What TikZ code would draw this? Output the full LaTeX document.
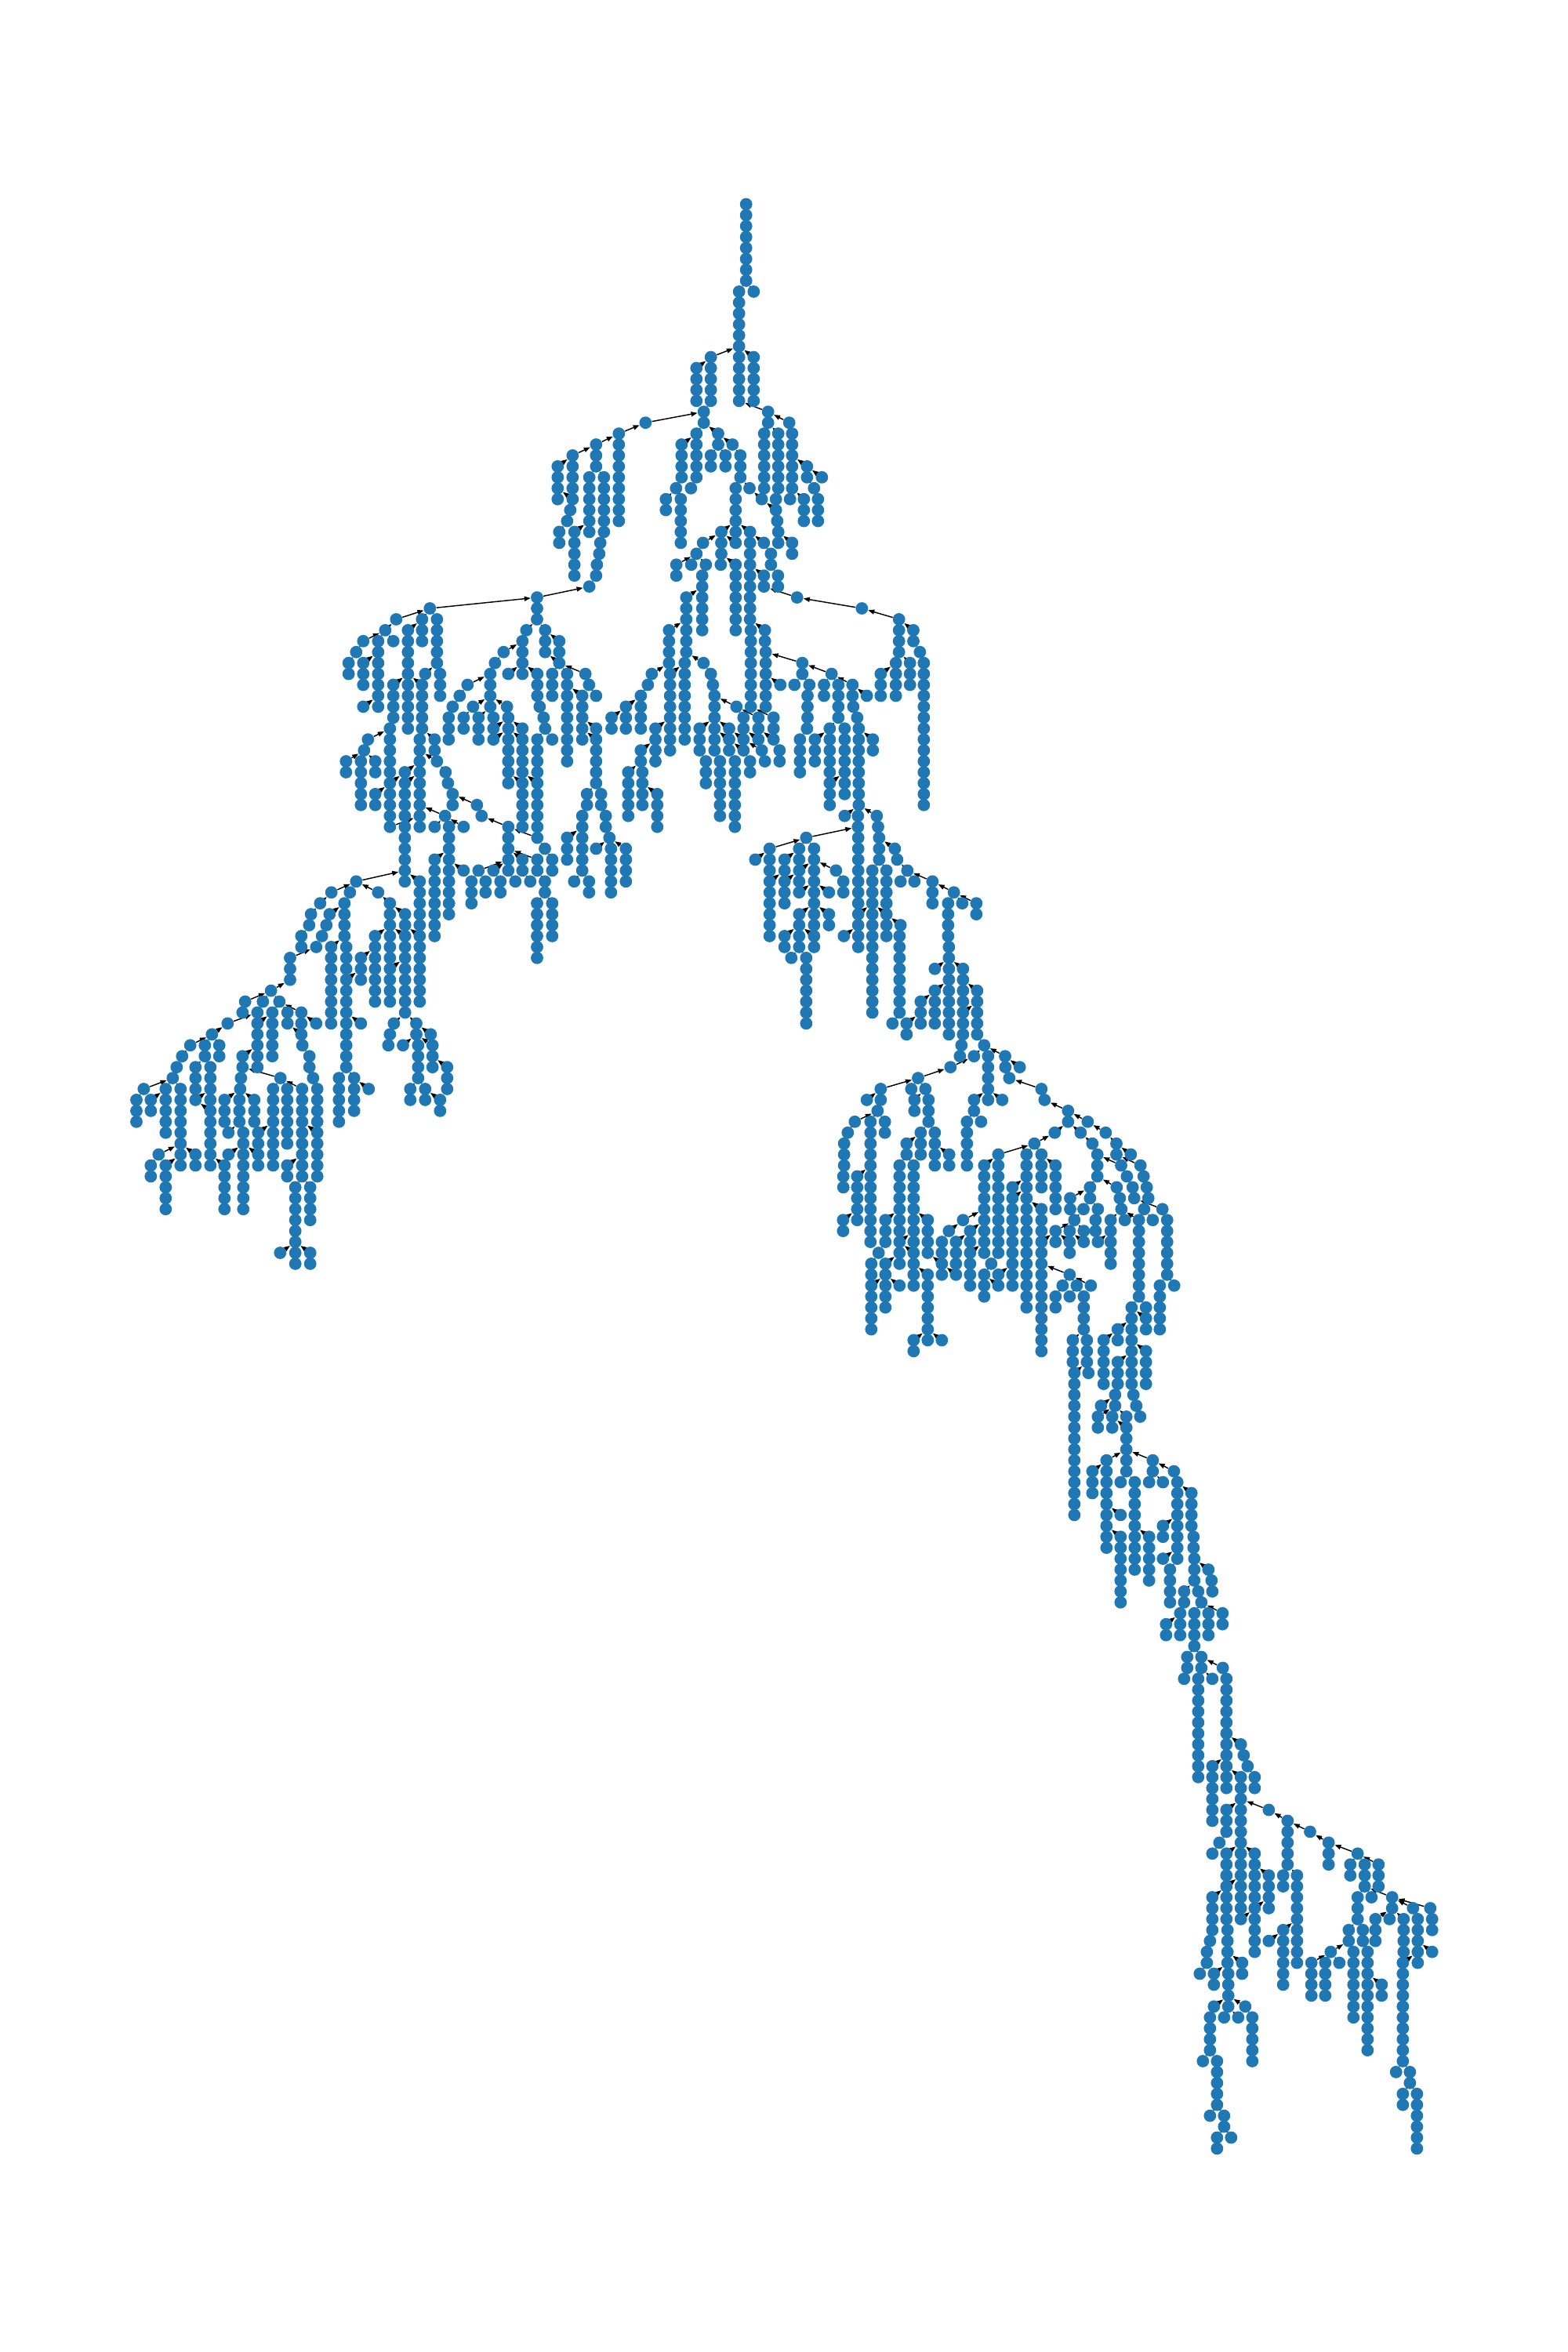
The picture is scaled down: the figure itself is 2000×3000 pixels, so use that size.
\documentclass[tikz,border=0pt]{standalone}
\usetikzlibrary{arrows.meta}
\definecolor{dotblue}{HTML}{1F78B4}
\pgfdeclarelayer{bg}\pgfsetlayers{bg,main}
\tikzset{
  dot/.style={circle,fill=dotblue,draw=none,inner sep=0pt,minimum size=7.9pt},
  edge/.style={-{Triangle[length=4pt,width=3pt]},line width=0.72pt,black}
}
\def\edgelist{}
\newcommand\C[2]{\gdef\cn{#1}\gdef\cx{#2}}
\newcommand\ed[2]{\ifcsname pgf@sh@ns@#2\endcsname\draw[edge] (#1) -- (#2);\else\fill[red] (#1) circle (25);\typeout{MISSING #2}\fi}
\newcommand\chainrun[4]{\ifnum#4>1 \foreach \k in {2,...,#4}{%
  \pgfmathtruncatemacro\lv{#3+\k-1}\pgfmathtruncatemacro\lp{\lv-1}%
  \draw[edge] (#1-#2-\lv) -- (#1-#2-\lp);}\fi}
\newcommand\Rn[3]{\foreach \k in {1,...,#3}{%
  \pgfmathtruncatemacro\lv{#2+\k-1}%
  \node[dot] (\cn-#1-\lv) at ({\cx+#1/3},{260.5+13.932*\lv}) {};
}\xdef\edgelist{\unexpanded\expandafter{\edgelist}\noexpand\chainrun{\cn}{#1}{#2}{#3}}}
\newcommand\Rv[4]{\Rn{#1}{#2}{#3}%
  \xdef\edgelist{\unexpanded\expandafter{\edgelist}\noexpand\ed{\cn-#1-#2}{#4}}}
\newcommand\Ru[4]{\Rn{#1}{#2}{#3}%
  \ifx\relax#4\relax\else
  \xdef\edgelist{\unexpanded\expandafter{\edgelist}\noexpand\ed{\cn-#1-#2}{\cn-#4-\the\numexpr#2-1\relax}}\fi}
\begin{document}
\begin{tikzpicture}[x=0.5pt,y=-0.5pt]
\useasboundingbox (0,0) rectangle (2000,3000);
\C{a}{650}
\Ru{905}{0}{8}{}\Ru{878}{8}{11}{905}\Ru{934}{8}{1}{905}\Ru{770}{14}{5}{878}\Ru{934}{14}{5}{878}
\Ru{715}{15}{4}{770}\Ru{989}{19}{2}{878}\Ru{1070}{20}{1}{989}\Ru{974}{21}{6}{989}\Ru{1028}{21}{6}{989}
\Ru{1081}{21}{6}{1070}\Ru{1019}{27}{1}{1028}\Ru{1073}{27}{1}{1081}\Ru{1138}{24}{2}{1081}\Ru{1195}{25}{1}{1138}
\Ru{1165}{26}{1}{1138}\Ru{1180}{27}{3}{1165}\Ru{1126}{27}{3}{1081}\Ru{743}{19}{2}{770}\Ru{520}{20}{1}{743}
\Ru{418}{21}{9}{520}\Ru{331}{22}{3}{418}\Ru{241}{23}{4}{331}\Ru{184}{24}{4}{241}\Ru{241}{27}{1}{184}
\Ru{232}{28}{1}{241}\Ru{220}{29}{1}{232}\Ru{190}{30}{2}{220}\Ru{305}{25}{6}{331}\Ru{361}{25}{6}{331}
\Ru{248}{30}{5}{305}\Ru{347}{31}{1}{361}\Ru{343}{32}{1}{347}\Ru{334}{33}{1}{343}\Ru{331}{34}{1}{334}
\Ru{305}{35}{1}{331}\Ru{715}{21}{5}{743}\Ru{798}{21}{2}{743}\Ru{658}{22}{4}{715}\Ru{637}{26}{1}{658}
\Ru{694}{26}{1}{715}\Ru{598}{27}{2}{637}\Ru{655}{27}{5}{637}\Ru{853}{22}{1}{798}\Ru{770}{23}{2}{798}
\Ru{826}{23}{2}{798}\Ru{883}{23}{3}{853}\Ru{865}{26}{4}{883}\Ru{918}{26}{1}{883}\Ru{965}{27}{1}{918}
\Ru{1019}{28}{1}{965}\Ru{1024}{29}{1}{1019}\Ru{1028}{30}{2}{1024}\Ru{1081}{31}{2}{1028}\Ru{810}{30}{3}{865}
\Ru{865}{30}{1}{865}\Ru{920}{30}{3}{865}\Ru{865}{31}{1}{810}\Ru{740}{31}{1}{810}\Ru{973}{31}{1}{920}
\Ru{1000}{32}{1}{973}\Ru{715}{32}{1}{740}
\C{c}{780}
\Rv{248}{33}{2}{a-715-32}\Rv{305}{33}{1}{a-715-32}\Rv{361}{33}{1}{a-715-32}\Rv{418}{33}{1}{a-810-32}
\Rv{475}{33}{7}{a-810-32}\Rv{530}{33}{6}{a-920-32}\Rv{610}{33}{1}{a-1000-32}
\Ru{347}{34}{6}{361}\Ru{583}{34}{2}{530}\Ru{637}{34}{2}{610}\Ru{710}{36}{1}{583}\Ru{958}{37}{1}{710}
\Ru{1100}{38}{4}{958}\Ru{286}{36}{6}{347}\Ru{280}{42}{8}{286}\Ru{220}{39}{4}{286}\Ru{154}{43}{1}{220}
\Ru{139}{44}{1}{154}\Ru{112}{45}{4}{139}\Ru{55}{46}{3}{112}\Ru{224}{43}{8}{280}\Ru{168}{48}{4}{224}
\Ru{112}{50}{2}{168}\Ru{118}{52}{4}{112}\Ru{64}{52}{5}{112}\Ru{175}{54}{4}{118}\Ru{352}{42}{1}{286}
\Ru{380}{43}{1}{352}\Ru{388}{44}{1}{380}\Ru{394}{45}{6}{388}\Ru{478}{46}{1}{394}\Ru{505}{47}{2}{478}
\Ru{562}{47}{2}{478}\Ru{620}{47}{2}{533}\Ru{337}{48}{3}{394}\Ru{450}{48}{1}{394}\Ru{450}{49}{2}{394}
\Ru{505}{49}{1}{450}\Ru{505}{50}{1}{450}\Ru{562}{49}{1}{505}\Ru{620}{49}{1}{562}\Ru{575}{50}{1}{505}
\Ru{643}{50}{2}{620}\Ru{587}{51}{1}{575}\Ru{530}{51}{2}{505}\Ru{472}{51}{7}{450}\Ru{415}{51}{6}{394}
\Ru{361}{51}{3}{337}\Ru{533}{39}{8}{530}\Ru{587}{39}{2}{530}\Ru{590}{41}{6}{587}\Ru{646}{44}{1}{590}
\Ru{730}{42}{2}{590}\Ru{842}{43}{1}{730}\Ru{700}{44}{1}{730}\Ru{757}{44}{1}{730}\Ru{750}{45}{3}{757}
\Ru{748}{48}{1}{750}\Ru{721}{49}{4}{748}\Ru{813}{44}{2}{842}\Ru{868}{44}{4}{842}\Ru{922}{44}{2}{842}
\Ru{977}{45}{1}{922}\Ru{925}{46}{1}{922}\Ru{940}{47}{1}{925}\Ru{946}{48}{8}{940}\Ru{835}{48}{5}{868}
\Ru{892}{48}{7}{868}\Ru{835}{53}{3}{892}\Ru{778}{49}{3}{835}\Ru{1000}{49}{2}{946}\Ru{943}{56}{2}{946}
\Ru{892}{56}{1}{946}\Ru{1015}{56}{1}{946}\Ru{1020}{57}{1}{1015}\Ru{1155}{39}{2}{1100}\Ru{1180}{41}{1}{1155}
\Ru{1195}{42}{14}{1180}\Ru{1088}{42}{4}{1100}\Ru{1142}{42}{3}{1100}\Ru{1030}{43}{3}{1088}
\C{b}{400}
\Rv{855}{36}{3}{a-305-35}
\Ru{445}{37}{1}{855}\Ru{316}{38}{1}{445}\Ru{415}{38}{3}{445}\Ru{472}{38}{5}{445}\Ru{274}{39}{1}{316}
\Ru{190}{40}{1}{274}\Ru{247}{40}{7}{274}\Ru{305}{40}{1}{274}\Ru{163}{41}{1}{190}\Ru{134}{42}{2}{163}
\Ru{190}{42}{3}{247}\Ru{190}{46}{1}{247}\Ru{361}{39}{10}{415}\Ru{484}{43}{3}{472}\Ru{427}{43}{1}{472}
\Ru{415}{44}{5}{361}\Ru{305}{44}{4}{361}\Ru{406}{49}{9}{415}\Ru{463}{49}{2}{415}\Ru{472}{51}{1}{406}
\Ru{505}{52}{1}{472}\Ru{514}{53}{1}{505}\Ru{532}{54}{2}{514}\Ru{292}{48}{5}{305}\Ru{208}{49}{1}{292}
\Ru{193}{50}{1}{208}\Ru{124}{51}{2}{193}\Ru{181}{51}{5}{193}\Ru{236}{51}{2}{193}\Ru{236}{54}{2}{292}
\Ru{349}{52}{1}{406}\Ru{349}{53}{10}{406}\Ru{292}{53}{4}{349}\Ru{292}{57}{1}{406}\Ru{625}{55}{1}{532}
\Ru{643}{56}{1}{625}\Ru{745}{57}{5}{643}\Ru{503}{56}{1}{406}\Ru{463}{57}{1}{503}\Ru{518}{57}{9}{503}
\Ru{574}{57}{1}{503}\Ru{463}{60}{8}{518}\Ru{574}{61}{1}{518}\Ru{631}{61}{1}{745}\Ru{688}{61}{1}{745}
\Ru{604}{62}{3}{631}\Ru{658}{62}{2}{631}\Ru{715}{62}{2}{688}\Ru{772}{62}{1}{745}\Ru{799}{60}{2}{745}
\Ru{829}{62}{1}{799}\Ru{856}{58}{1}{745}\Ru{885}{59}{1}{856}\Ru{856}{60}{2}{745}\Ru{885}{62}{2}{856}
\Ru{913}{60}{2}{885}\Ru{855}{64}{6}{885}\Ru{913}{64}{4}{885}
\Ru{814}{39}{1}{855}\Ru{886}{39}{3}{855}\Ru{940}{40}{2}{886}\Ru{940}{42}{1}{886}\Ru{1040}{43}{1}{940}
\Ru{970}{43}{9}{940}\Ru{913}{43}{3}{940}\Ru{799}{40}{4}{814}\Ru{856}{43}{3}{799}\Ru{865}{46}{1}{856}
\Ru{880}{47}{1}{865}\Ru{886}{48}{1}{880}\Ru{856}{49}{4}{886}\Ru{856}{53}{5}{799}\Ru{913}{49}{1}{886}
\Ru{745}{43}{1}{799}\Ru{727}{41}{1}{799}\Ru{694}{42}{1}{727}\Ru{676}{43}{4}{694}\Ru{589}{44}{1}{676}
\Ru{559}{45}{1}{589}\Ru{532}{46}{1}{559}\Ru{517}{47}{3}{532}\Ru{610}{46}{1}{676}\Ru{574}{47}{2}{610}
\Ru{631}{47}{3}{676}\Ru{688}{47}{1}{676}\Ru{740}{46}{1}{676}\Ru{745}{47}{7}{740}\Ru{688}{48}{1}{745}
\Ru{688}{49}{1}{745}\Ru{799}{48}{1}{745}\Ru{799}{49}{4}{745}\Ru{799}{53}{5}{745}\Ru{1028}{45}{5}{970}
\Ru{1054}{44}{1}{1040}\Ru{1081}{45}{1}{1054}\Ru{1081}{48}{1}{1028}\Ru{1081}{49}{5}{1028}\Ru{1046}{54}{2}{1081}
\Ru{1100}{54}{2}{1081}\Ru{1028}{56}{6}{1046}\Ru{1118}{56}{2}{1100}\Ru{1132}{58}{1}{1118}\Ru{970}{58}{3}{1028}
\Ru{1138}{59}{5}{1132}\Ru{1081}{59}{1}{1132}\Ru{1195}{59}{4}{1132}\Ru{997}{62}{1}{1028}\Ru{1054}{62}{2}{1028}
\Rv{1140}{47}{2}{c-55-46}
\Ru{163}{62}{1}{349}\Ru{68}{63}{1}{163}\Ru{139}{63}{1}{163}\Ru{247}{63}{1}{163}\Ru{406}{62}{5}{349}
\C{d}{150}
\Rv{775}{64}{1}{b-68-63}\Rv{868}{64}{4}{b-139-63}\Rv{1042}{64}{6}{b-247-63}
\Ru{1042}{70}{4}{1100}\Ru{1100}{65}{2}{1042}\Ru{1100}{67}{8}{1042}\Ru{817}{68}{8}{868}\Ru{875}{68}{3}{868}
\Ru{875}{71}{9}{931}\Ru{847}{80}{5}{875}\Ru{905}{80}{4}{875}\Ru{961}{81}{1}{905}\Ru{931}{75}{1}{875}
\Ru{740}{65}{1}{775}\Ru{733}{66}{1}{740}\Ru{703}{67}{2}{733}\Ru{811}{65}{1}{868}
\Ru{799}{66}{1}{811}\Ru{782}{67}{1}{799}\Ru{760}{68}{1}{782}\Ru{660}{69}{3}{760}\Ru{587}{72}{1}{660}
\Ru{488}{73}{1}{587}\Ru{556}{73}{1}{587}\Ru{619}{73}{1}{587}\Ru{985}{67}{7}{1042}\Ru{931}{69}{3}{985}
\Ru{1156}{67}{7}{1100}\Ru{1057}{75}{1}{1100}\Ru{1143}{75}{2}{1100}\Ru{1042}{76}{1}{1057}\Ru{1036}{77}{1}{1042}
\Ru{1198}{76}{1}{1143}\Ru{1092}{77}{1}{1143}\Ru{1150}{77}{4}{1143}\Ru{1205}{77}{3}{1143}\Ru{1261}{79}{3}{1205}
\Ru{1120}{81}{2}{1150}\Ru{1177}{81}{2}{1150}\Ru{1234}{82}{2}{1177}
\Ru{478}{74}{1}{488}\Ru{535}{74}{1}{556}\Ru{592}{74}{5}{619}\Ru{535}{75}{5}{592}\Ru{650}{74}{2}{619}
\Ru{703}{74}{2}{619}\Ru{703}{76}{1}{650}\Ru{707}{77}{1}{703}\Ru{760}{75}{1}{703}\Ru{734}{78}{2}{707}
\Ru{748}{80}{1}{734}\Ru{764}{81}{4}{748}\Ru{764}{85}{5}{706}\Ru{478}{78}{2}{535}\Ru{472}{80}{1}{478}
\Ru{623}{80}{1}{478}\Ru{706}{81}{9}{623}\Ru{649}{81}{6}{623}\Ru{595}{81}{8}{623}\Ru{469}{81}{1}{472}
\Ru{466}{82}{3}{469}\Ru{409}{82}{3}{469}\Ru{523}{82}{3}{469}\Ru{424}{85}{1}{466}\Ru{481}{85}{8}{466}
\Ru{538}{85}{2}{595}\Ru{538}{87}{2}{481}\Ru{424}{87}{1}{481}\Ru{409}{88}{5}{355}\Ru{649}{88}{2}{706}
\Ru{680}{90}{6}{706}\Ru{737}{90}{4}{706}\Ru{622}{96}{1}{680}\Ru{680}{96}{2}{680}\Ru{737}{96}{2}{680}
\Ru{421}{75}{1}{535}\Ru{361}{76}{1}{421}\Ru{278}{77}{1}{361}\Ru{334}{77}{2}{361}\Ru{389}{77}{2}{361}
\Ru{247}{78}{1}{278}\Ru{226}{79}{1}{247}\Ru{211}{80}{1}{226}\Ru{100}{81}{1}{211}\Ru{184}{81}{5}{211}
\Ru{241}{81}{6}{211}\Ru{72}{82}{3}{100}\Ru{127}{82}{2}{184}\Ru{157}{87}{1}{241}\Ru{241}{87}{2}{241}
\Ru{298}{87}{2}{241}\Ru{127}{88}{2}{157}\Ru{184}{88}{5}{241}\Ru{298}{79}{3}{334}\Ru{298}{82}{1}{355}
\Ru{355}{79}{4}{334}\Ru{355}{83}{6}{298}
\C{e}{950}
\Rv{434}{58}{7}{c-943-57}\Rv{235}{58}{1}{c-943-57}\Rv{514}{58}{3}{c-1020-57}
\Ru{434}{65}{4}{488}\Ru{95}{59}{3}{235}\Ru{95}{62}{6}{152}\Ru{208}{59}{2}{235}\Ru{265}{59}{8}{235}
\Ru{265}{67}{2}{208}\Ru{40}{60}{1}{95}\Ru{152}{60}{2}{208}\Ru{152}{62}{3}{208}\Ru{208}{61}{2}{265}
\Ru{208}{63}{1}{265}\Ru{208}{65}{4}{265}\Ru{152}{67}{2}{208}\Ru{349}{61}{1}{265}\Ru{377}{62}{2}{349}
\Ru{322}{63}{1}{265}\Ru{322}{65}{2}{265}\Ru{178}{69}{1}{208}\Ru{235}{69}{7}{208}\Ru{379}{67}{1}{434}
\Ru{488}{61}{14}{514}\Ru{542}{61}{4}{514}\Ru{542}{65}{3}{488}\Ru{574}{59}{1}{514}\Ru{583}{60}{1}{574}
\Ru{622}{61}{1}{583}\Ru{596}{62}{1}{622}\Ru{649}{62}{1}{622}\Ru{718}{62}{3}{622}\Ru{800}{63}{1}{718}
\Ru{778}{64}{4}{800}\Ru{832}{64}{1}{800}\Ru{886}{64}{2}{800}\Ru{781}{68}{9}{778}\Ru{727}{70}{1}{781}
\Ru{835}{70}{4}{781}\Ru{835}{74}{3}{889}\Ru{829}{77}{1}{835}\Ru{823}{78}{1}{829}\Ru{727}{72}{4}{781}
\Ru{673}{73}{3}{727}\Ru{619}{75}{2}{673}\Ru{596}{66}{1}{542}\Ru{592}{67}{8}{596}\Ru{565}{75}{1}{592}
\Ru{889}{72}{5}{835}\Ru{916}{77}{1}{889}\Ru{877}{78}{1}{916}\Ru{931}{78}{1}{916}\Ru{996}{78}{1}{916}
\C{f}{1050}
\Rv{487}{79}{1}{e-877-78}\Rv{631}{79}{3}{e-931-78}\Rv{697}{79}{1}{e-996-78}\Rv{752}{79}{1}{e-996-78}
\Ru{363}{80}{1}{487}\Ru{712}{80}{1}{697}\Ru{220}{81}{2}{363}\Ru{337}{81}{1}{363}\Ru{391}{81}{1}{363}
\Ru{349}{82}{2}{391}\Ru{403}{82}{3}{391}\Ru{167}{82}{1}{220}\Ru{208}{83}{1}{220}\Ru{121}{84}{1}{208}
\Ru{181}{84}{12}{208}\Ru{236}{84}{2}{208}\Ru{94}{85}{1}{121}\Ru{80}{86}{3}{94}\Ru{77}{89}{2}{80}
\Ru{130}{89}{5}{181}\Ru{76}{93}{2}{130}\Ru{373}{85}{3}{403}\Ru{427}{85}{4}{403}\Ru{482}{87}{2}{427}
\Ru{319}{86}{2}{373}\Ru{292}{88}{7}{319}\Ru{292}{95}{3}{346}\Ru{346}{88}{8}{319}\Ru{346}{96}{4}{292}
\Ru{238}{93}{3}{292}\Ru{400}{93}{4}{346}\Ru{212}{96}{1}{238}\Ru{184}{97}{2}{212}\Ru{184}{99}{5}{238}
\Ru{238}{97}{5}{292}\Ru{292}{99}{1}{238}\Ru{400}{98}{6}{346}\Ru{346}{104}{2}{400}\Ru{400}{104}{1}{400}
\Ru{454}{104}{1}{400}\Ru{577}{82}{2}{631}\Ru{631}{82}{1}{631}\Ru{685}{82}{1}{631}\Ru{550}{84}{5}{577}
\Ru{604}{84}{1}{577}\Ru{835}{81}{1}{712}\Ru{847}{82}{1}{835}\Ru{937}{83}{2}{847}\Ru{886}{85}{1}{937}
\Ru{808}{86}{1}{886}\Ru{670}{87}{10}{808}\Ru{778}{87}{15}{808}\Ru{835}{87}{4}{808}\Ru{889}{88}{5}{835}
\Ru{616}{88}{9}{670}\Ru{535}{93}{1}{616}\Ru{481}{94}{1}{535}\Ru{562}{94}{2}{616}\Ru{562}{96}{4}{616}
\Ru{454}{95}{2}{481}\Ru{454}{97}{2}{400}\Ru{508}{95}{3}{562}\Ru{508}{98}{1}{454}\Ru{724}{90}{1}{778}
\Ru{724}{91}{9}{778}\Ru{643}{97}{1}{670}\Ru{616}{98}{3}{643}\Ru{670}{98}{1}{724}\Ru{670}{99}{1}{616}
\Ru{835}{92}{3}{778}\Ru{835}{95}{11}{889}\Ru{943}{98}{1}{835}\Ru{916}{99}{1}{943}\Ru{970}{99}{1}{943}
\Ru{1024}{99}{1}{943}\Ru{889}{100}{2}{916}\Ru{943}{100}{1}{970}\Ru{997}{100}{4}{970}\Ru{955}{104}{3}{997}
\Ru{1009}{104}{3}{997}\Ru{1015}{107}{1}{1009}\Ru{961}{107}{2}{1009}
\Ru{1012}{84}{1}{937}\Ru{1081}{85}{1}{1012}\Ru{1122}{86}{2}{1081}\Ru{1177}{87}{1}{1122}\Ru{985}{85}{1}{937}
\Ru{1030}{86}{1}{985}\Ru{1049}{87}{3}{1030}\Ru{1140}{88}{1}{1049}\Ru{1214}{88}{1}{1122}\Ru{1162}{89}{1}{1140}
\Ru{1226}{89}{1}{1214}\Ru{1184}{90}{1}{1162}\Ru{1238}{90}{1}{1226}\Ru{1190}{91}{1}{1184}\Ru{1244}{91}{1}{1238}
\Ru{1123}{90}{1}{1049}\Ru{1135}{91}{1}{1123}\Ru{1141}{92}{1}{1135}\Ru{1154}{93}{1}{1141}\Ru{1100}{93}{5}{1141}
\Ru{1208}{93}{8}{1141}\Ru{1228}{92}{1}{1244}\Ru{1298}{92}{1}{1190}\Ru{1261}{93}{1}{1228}\Ru{1316}{93}{6}{1298}
\Ru{1288}{99}{5}{1316}\Ru{1343}{99}{1}{1316}\Ru{1180}{101}{8}{1208}\Ru{1235}{101}{1}{1208}\Ru{1235}{102}{2}{1180}
\Ru{1127}{103}{2}{1180}\Ru{1073}{104}{5}{1127}\Ru{1235}{105}{4}{1180}\Ru{1127}{106}{3}{1180}\Ru{1021}{90}{2}{1049}
\Ru{945}{91}{2}{1021}\Ru{1051}{92}{1}{1021}\Ru{996}{92}{1}{1021}\Ru{1042}{93}{2}{1051}\Ru{1051}{95}{1}{1100}
\Ru{961}{93}{1}{996}\Ru{889}{94}{2}{961}\Ru{943}{94}{1}{961}\Ru{997}{94}{1}{961}\Ru{943}{95}{2}{889}
\Ru{997}{95}{1}{943}
\C{g}{1340}
\Rv{317}{109}{1}{f-1180-108}\Rv{247}{109}{2}{f-1127-108}\Rv{91}{109}{12}{f-961-108}
\Ru{328}{110}{1}{317}\Ru{343}{111}{1}{328}\Ru{193}{110}{1}{247}\Ru{181}{111}{2}{247}\Ru{236}{111}{2}{247}
\Ru{290}{111}{1}{247}\Ru{290}{112}{5}{236}\Ru{214}{115}{9}{290}\Ru{391}{115}{2}{290}\Ru{472}{116}{1}{391}
\Ru{160}{116}{3}{214}\Ru{268}{117}{1}{290}\Ru{322}{117}{9}{290}\Ru{268}{120}{1}{214}\Ru{268}{122}{7}{214}
\Ru{377}{117}{1}{391}\Ru{430}{117}{1}{391}\Ru{377}{122}{5}{322}\Ru{485}{117}{8}{472}\Ru{539}{118}{4}{485}
\Ru{547}{122}{2}{539}\Ru{550}{124}{3}{547}\Ru{430}{121}{2}{485}\Ru{430}{124}{1}{485}\Ru{457}{125}{4}{485}
\Ru{604}{125}{1}{550}\Ru{616}{126}{1}{604}\Ru{619}{127}{1}{616}\Ru{511}{127}{2}{550}\Ru{565}{127}{1}{550}
\Ru{577}{128}{1}{565}\Ru{496}{129}{3}{511}\Ru{550}{129}{4}{577}\Ru{604}{129}{3}{577}\Ru{658}{129}{2}{577}
\Ru{442}{130}{2}{496}
\C{h}{1450}
\Rv{193}{133}{2}{g-550-132}\Rv{247}{133}{2}{g-550-132}
\Ru{181}{135}{1}{193}\Ru{329}{134}{1}{247}\Ru{289}{135}{1}{247}\Ru{235}{135}{10}{247}\Ru{343}{135}{11}{329}
\Ru{398}{141}{1}{343}\Ru{409}{142}{1}{398}\Ru{424}{143}{1}{409}\Ru{451}{144}{2}{424}\Ru{398}{144}{13}{343}
\Ru{398}{157}{1}{451}\Ru{289}{143}{6}{343}\Ru{343}{147}{3}{398}\Ru{316}{150}{1}{343}\Ru{289}{151}{1}{316}
\Ru{343}{151}{3}{398}\Ru{343}{154}{4}{398}\Ru{451}{151}{5}{398}\Ru{451}{156}{5}{505}\Ru{505}{153}{4}{451}
\Ru{347}{158}{4}{343}\Ru{350}{162}{4}{347}\Ru{289}{155}{4}{343}\Ru{280}{159}{1}{289}\Ru{268}{160}{2}{280}
\Ru{241}{162}{1}{268}\Ru{295}{162}{2}{347}\Ru{403}{161}{2}{347}\Ru{295}{165}{1}{350}\Ru{415}{165}{1}{350}
\Ru{334}{166}{1}{350}\Ru{388}{166}{1}{350}\Ru{442}{166}{5}{415}\Ru{280}{166}{4}{295}\Ru{253}{170}{1}{280}
\Ru{307}{170}{5}{280}\Ru{280}{175}{1}{307}\Ru{334}{175}{2}{307}\Ru{307}{177}{2}{334}\Ru{361}{177}{1}{334}
\Ru{505}{147}{1}{398}\Ru{577}{148}{5}{505}\Ru{663}{149}{1}{577}\Ru{734}{150}{3}{663}\Ru{845}{151}{1}{734}
\Ru{817}{152}{2}{845}\Ru{872}{152}{3}{845}\Ru{925}{152}{3}{845}\Ru{560}{153}{2}{577}\Ru{613}{153}{9}{577}
\Ru{560}{158}{6}{613}\Ru{505}{159}{1}{560}\Ru{977}{155}{2}{872}\Ru{898}{155}{1}{872}\Ru{845}{155}{3}{872}
\Ru{1057}{156}{1}{977}\Ru{1123}{156}{1}{977}\Ru{1130}{157}{2}{1123}\Ru{1075}{157}{5}{1057}\Ru{1130}{160}{1}{1075}
\Ru{1021}{157}{4}{977}\Ru{967}{157}{1}{977}\Ru{913}{157}{3}{977}\Ru{1018}{161}{10}{1075}\Ru{992}{171}{1}{1018}
\Ru{1045}{171}{2}{1018}\Ru{1018}{173}{2}{1045}\Ru{1072}{173}{6}{1045}\Ru{811}{158}{2}{845}\Ru{865}{158}{2}{845}
\Ru{829}{160}{7}{811}\Ru{883}{160}{10}{865}\Ru{937}{163}{2}{883}\Ru{742}{160}{1}{811}\Ru{668}{161}{4}{742}
\Ru{721}{161}{4}{742}\Ru{775}{161}{1}{742}
\begin{pgfonlayer}{bg}\edgelist\end{pgfonlayer}
\end{tikzpicture}
\end{document}
